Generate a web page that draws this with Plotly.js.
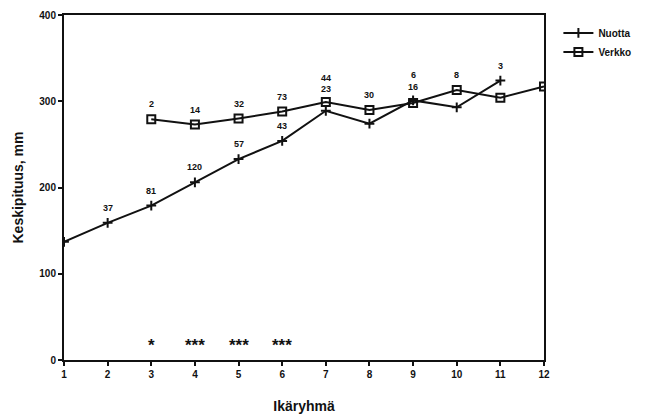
<!DOCTYPE html>
<html><head><meta charset="utf-8">
<script src="https://cdn.plot.ly/plotly-3.0.1.min.js"></script>
<style>html,body{margin:0;padding:0;background:#fff;overflow:hidden}#c{width:648px;height:416px}</style>
</head><body><div id="c"></div>
<script>
// Age groups (Ikäryhmä)
const ageGroups = [1,2,3,4,5,6,7,8,9,10,11,12];
// Nuotta (plus markers) mean length, mm, age 1..11
const nuottaX = [1,2,3,4,5,6,7,8,9,10,11];
const nuottaY = [137,159,179,206,233,254,289,274,301,293,324];
const nuottaN = [null,37,81,120,57,43,44,null,6,null,3];
// Verkko (square markers) mean length, mm, age 3..12
const verkkoX = [3,4,5,6,7,8,9,10,11,12];
const verkkoY = [279,273,280,288,299,290,298,313,304,317];
const verkkoN = [2,14,32,73,23,30,16,8,null,null];
// Significance marks
const sigX = [3,4,5,6];
const sigText = ['*','***','***','***'];
const sigY = 22;
const yTicks = [0,100,200,300,400];

const font = {family:'Liberation Sans, Arial, sans-serif', color:'#111'};
const ann = [];
nuottaX.forEach((x,i)=>{
  if(nuottaN[i]===null) return;
  let y = nuottaY[i], ys = 15;
  if(x===7){ y = Math.max(nuottaY[i], verkkoY[verkkoX.indexOf(7)]); ys = 24; }
  if(x===9){ y = Math.max(nuottaY[i], verkkoY[verkkoX.indexOf(9)]); ys = 25; }
  ann.push({x:x, y:y, xref:'x', yref:'y', text:String(nuottaN[i]), showarrow:false, yshift:ys,
    font:Object.assign({size:9, weight:'bold'}, font)});
});
verkkoX.forEach((x,i)=>{
  if(verkkoN[i]===null) return;
  let y = verkkoY[i], ys = 15;
  if(x===7 || x===9){ y = Math.max(verkkoY[i], nuottaY[nuottaX.indexOf(x)]); ys = 13; }
  ann.push({x:x, y:y, xref:'x', yref:'y', text:String(verkkoN[i]), showarrow:false, yshift:ys,
    font:Object.assign({size:9, weight:'bold'}, font)});
});
sigX.forEach((x,i)=>{
  ann.push({x:x, y:sigY, xref:'x', yref:'y', text:sigText[i], showarrow:false, yshift:-4,
    font:Object.assign({size:17, weight:'bold'}, font)});
});

const traces = [
  {x:nuottaX, y:nuottaY, name:'Nuotta', mode:'lines+markers', type:'scatter',
   line:{color:'#111', width:2}, marker:{symbol:'cross-thin-open', size:7, line:{color:'#111', width:2}}},
  {x:verkkoX, y:verkkoY, name:'Verkko', mode:'lines+markers', type:'scatter',
   line:{color:'#111', width:2}, marker:{symbol:'square-open', size:8, color:'#111', line:{color:'#111', width:2}}}
];

const layout = {
  width:648, height:416,
  margin:{l:64, r:100, t:15, b:56},
  paper_bgcolor:'#fff', plot_bgcolor:'#fff',
  showlegend:true,
  legend:{x:1.03, y:0.99, xanchor:'left', yanchor:'top', font:Object.assign({size:10, weight:'bold'}, font),
    bgcolor:'rgba(0,0,0,0)', itemwidth:30, tracegroupgap:6},
  xaxis:{range:[1,12], tickvals:ageGroups, ticktext:ageGroups.map(String), showgrid:false, zeroline:false,
    showline:true, linecolor:'#111', linewidth:2, mirror:true, ticks:'outside', ticklen:4, tickwidth:2, tickcolor:'#111',
    tickfont:Object.assign({size:10, weight:'bold'}, font),
    title:{text:'Ikäryhmä', font:Object.assign({size:14, weight:'bold'}, font), standoff:22}},
  yaxis:{range:[0,400], tickvals:yTicks, showgrid:false, zeroline:false,
    showline:true, linecolor:'#111', linewidth:2, mirror:true, ticks:'outside', ticklen:4, tickwidth:2, tickcolor:'#111',
    tickfont:Object.assign({size:10, weight:'bold'}, font),
    title:{text:'Keskipituus, mm', font:Object.assign({size:14, weight:'bold'}, font), standoff:12}},
  annotations:ann
};
Plotly.newPlot('c', traces, layout, {displayModeBar:false, staticPlot:true});
</script></body></html>
